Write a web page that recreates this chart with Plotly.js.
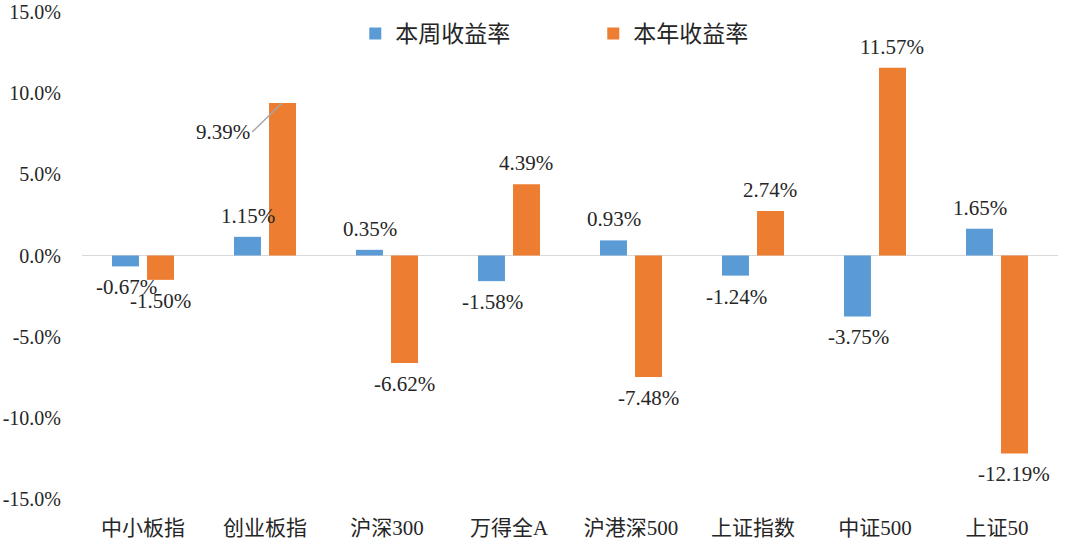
<!DOCTYPE html>
<html>
<head>
<meta charset="utf-8">
<script src="https://cdn.plot.ly/plotly-3.0.1.min.js"></script>
<style>html,body{margin:0;padding:0;background:#fff;}#chart{width:1080px;height:546px;}</style>
</head>
<body>
<div id="chart"></div>
<script>
const categories = ['中小板指','创业板指','沪深300','万得全A','沪港深500','上证指数','中证500','上证50'];
const weekReturn = [-0.67, 1.15, 0.35, -1.58, 0.93, -1.24, -3.75, 1.65];
const yearReturn = [-1.50, 9.39, -6.62, 4.39, -7.48, 2.74, 11.57, -12.19];
const seriesNames = ['本周收益率','本年收益率'];
const yTicks = [-15, -10, -5, 0, 5, 10, 15];
const yTickText = ['-15.0%','-10.0%','-5.0%','0.0%','5.0%','10.0%','15.0%'];

const LATIN = "Liberation Serif";
const MIXED = "Liberation Serif, Noto Sans CJK SC";
const BLUE = '#5b9bd5', ORANGE = '#ed7d31';

const traces = [
  {type:'bar', name:seriesNames[0], x:categories, y:weekReturn, marker:{color:BLUE}, hoverinfo:'skip'},
  {type:'bar', name:seriesNames[1], x:categories, y:yearReturn, marker:{color:ORANGE}, hoverinfo:'skip'}
];

const annotations = [];
const LABEL_SHIFT = 21, BAR_OFFSET = 17, BAR_OFFSET_FRAC = 0.14;
[weekReturn, yearReturn].forEach((arr, s) => {
  arr.forEach((v, i) => {
    const a = {
      x: categories[i], y: v, xref:'x', yref:'y',
      text: v.toFixed(2) + '%',
      showarrow: false,
      xshift: s === 0 ? -BAR_OFFSET : BAR_OFFSET,
      yshift: v >= 0 ? LABEL_SHIFT : -LABEL_SHIFT,
      font: {family: LATIN, size: 21, color: '#262626'}
    };
    // 创业板指 本年 label drawn with a leader line to the left
    if (s === 1 && i === 1) {
      a.x = i + BAR_OFFSET_FRAC;
      a.xshift = 0;
      a.yshift = 0;
      a.showarrow = true;
      a.arrowhead = 0;
      a.arrowwidth = 1.5;
      a.arrowcolor = '#a6a6a6';
      a.ax = -30;
      a.ay = 29;
      a.xanchor = 'right';
      a.standoff = 0;
    }
    annotations.push(a);
  });
});

const layout = {
  width: 1080, height: 546,
  margin: {l: 82, r: 22, t: 12, b: 47},
  paper_bgcolor: '#ffffff', plot_bgcolor: '#ffffff',
  barmode: 'group', bargap: 0.426, bargroupgap: 0.23,
  font: {family: MIXED, size: 19, color: '#262626'},
  showlegend: true,
  legend: {
    orientation: 'h', x: 0.28, xanchor: 'left', y: 1, yanchor: 'top',
    bgcolor: 'rgba(0,0,0,0)', entrywidth: 193, entrywidthmode: 'pixels',
    font: {family: "Noto Sans CJK SC", size: 23, color: '#262626'}
  },
  xaxis: {
    type: 'category', showgrid: false, zeroline: false, showline: false, automargin: false,
    ticks: 'outside', ticklen: 10, tickcolor: 'rgba(0,0,0,0)',
    tickfont: {family: MIXED, size: 21, color: '#262626'}
  },
  yaxis: {
    range: [-15, 15], tickvals: yTicks, ticktext: yTickText, automargin: false,
    showgrid: false, zeroline: true, zerolinecolor: '#d9d9d9', zerolinewidth: 1.5,
    showline: false, ticks: 'outside', ticklen: 16, tickcolor: 'rgba(0,0,0,0)',
    tickfont: {family: LATIN, size: 20, color: '#262626'}
  },
  annotations: annotations
};

Plotly.newPlot('chart', traces, layout, {displayModeBar: false, staticPlot: true});
</script>
</body>
</html>
